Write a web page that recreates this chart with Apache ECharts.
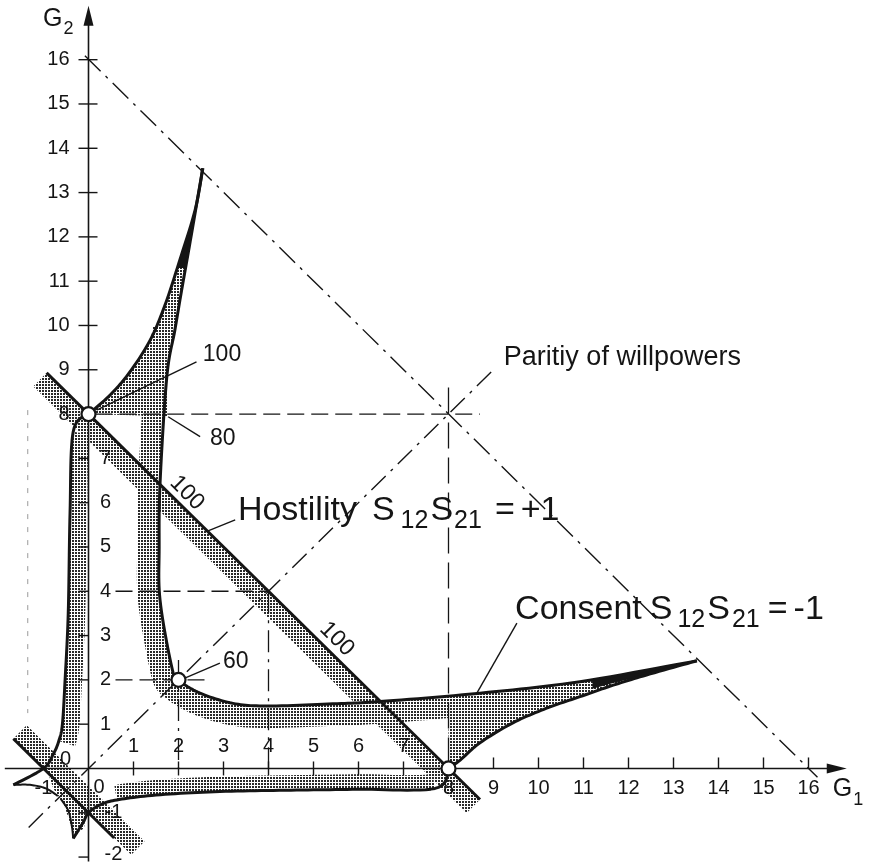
<!DOCTYPE html>
<html>
<head>
<meta charset="utf-8">
<script src="https://cdn.jsdelivr.net/npm/echarts@6/dist/echarts.min.js"></script>
<style>
  html, body { margin: 0; padding: 0; background: #fff; }
  #chart { width: 874px; height: 862px; }
</style>
</head>
<body>
<div id="chart"></div>
<script>
// ---------------- data ----------------
// axis ticks
const xTicksAbove = [1, 2, 3, 4, 5, 6, 7];
const xTicksBelow = [8, 9, 10, 11, 12, 13, 14, 15, 16];
const yTicksRight = [1, 2, 3, 4, 5, 6, 7];
const yTicksLeft = [8, 9, 10, 11, 12, 13, 14, 15, 16];
const yTicksNegative = [-1, -2];
const xTicksNegative = [-1];

// consent branch through (2,2): from the upper horn tip to the right horn tip
const consentG1 = [2.54, 2.24, 2.07, 1.92, 1.74, 1.59, 1.57, 1.59, 1.85, 2.0, 2.48, 3.21, 3.97, 5.43, 6.48, 8.70, 10.92, 13.52];
const consentG2 = [13.55, 11.78, 10.80, 9.90, 8.84, 6.44, 5.0, 3.80, 2.29, 2.0, 1.70, 1.47, 1.41, 1.46, 1.51, 1.70, 1.96, 2.43];
// outer edge of the upper horn, from (0,8)
const hornUpG1 = [0, 0.48, 0.92, 1.37, 1.70, 2.03, 2.37, 2.54];
const hornUpG2 = [8, 8.43, 8.95, 9.67, 10.46, 11.48, 12.61, 13.55];
const hornUpBase = [1.76, 7.95];
const hornUpDarkG1 = [1.98, 2.03, 2.37, 2.54, 2.24, 2.15];
const hornUpDarkG2 = [11.30, 11.48, 12.61, 13.55, 11.78, 11.30];
// lower edge of the right horn, from (8,0)
const hornRightG1 = [8, 8.26, 8.70, 9.43, 10.18, 10.92, 11.66, 12.40, 13.52];
const hornRightG2 = [0, 0.19, 0.58, 1.03, 1.36, 1.62, 1.88, 2.11, 2.43];
const hornRightBase = [8.0, 1.65];
const hornRightDarkG1 = [11.2, 13.52, 12.40, 11.66, 11.2];
const hornRightDarkG2 = [2.00, 2.43, 2.11, 1.93, 1.80];
// left branch, from (0,8) down to the cusp tail
const leftG1 = [0, -0.34, -0.41, -0.45, -0.52, -0.58, -0.66, -0.78, -1.0, -1.67];
const leftG2 = [8, 7.60, 5.77, 3.51, 2.0, 1.0, 0.62, 0.33, 0.0, -0.37];
// lower branch, from (8,0) to the cusp tail
const lowerG1 = [8, 7.70, 6.0, 4.5, 2.92, 1.5, 0.63, 0.26, 0.0, -0.12, -0.34];
const lowerG2 = [0, -0.45, -0.47, -0.49, -0.52, -0.60, -0.71, -0.82, -1.0, -1.22, -1.58];
// inner cusp edges near the origin
const cuspLowG1 = [-0.62, -0.45, -0.37, -0.34];
const cuspLowG2 = [-0.68, -0.95, -1.30, -1.58];
const cuspLeftG1 = [-0.68, -0.95, -1.30, -1.67];
const cuspLeftG2 = [-0.62, -0.45, -0.37, -0.37];
const cuspPatchG1 = [-0.9, -0.05, -0.1, -0.32, -0.55, -0.78];
const cuspPatchG2 = [-0.1, -0.95, -1.35, -1.5, -0.8, -0.45];

// hostility lines G1+G2 = 8 and G1+G2 = -1
const hostilityG1 = [-0.93, 8.70];
const hostilityG2 = [8.93, -0.70];
const hostility2G1 = [-1.67, 0.57];
const hostility2G2 = [0.67, -1.57];
const hostility2BandG1 = [-1.67, 0.95];
const hostility2BandG2 = [0.67, -1.95];

// reference lines
const sum16G1 = [-0.08, 16.2];
const sum16G2 = [16.09, -0.2];
const parityG = [-1.33, 9.04];

// equilibrium points
const equilibriaG1 = [0, 8, 2];
const equilibriaG2 = [8, 0, 2];

// value annotations
const levelLabels = ['100', '80', '60', '100', '100'];

// ---------------- drawing ----------------
const INK = '#151515';
const FONT = '"Liberation Sans", Arial, Helvetica, sans-serif';
const MID = 0.35;

const dotCanvas = document.createElement('canvas');
dotCanvas.width = 3; dotCanvas.height = 3;
const dctx = dotCanvas.getContext('2d');
dctx.fillStyle = '#2a2a2a';
dctx.fillRect(0, 0, 2, 2);
const DOTS = { image: dotCanvas, repeat: 'repeat' };

const measureCtx = document.createElement('canvas').getContext('2d');
function textWidth(t, size) {
  measureCtx.font = size + 'px ' + FONT;
  return measureCtx.measureText(t).width;
}

function toPx(api, xs, ys) { return xs.map((x, i) => api.coord([x, ys[i]])); }

// Catmull-Rom through the given pixel points
function dense(pts, seg) {
  if (pts.length < 3) return pts.slice();
  const out = [];
  for (let i = 0; i < pts.length - 1; i++) {
    const p0 = pts[Math.max(i - 1, 0)], p1 = pts[i], p2 = pts[i + 1], p3 = pts[Math.min(i + 2, pts.length - 1)];
    for (let k = 0; k < seg; k++) {
      const t = k / seg, t2 = t * t, t3 = t2 * t;
      out.push([0, 1].map(j => 0.5 * (2 * p1[j] + (-p0[j] + p2[j]) * t +
        (2 * p0[j] - 5 * p1[j] + 4 * p2[j] - p3[j]) * t2 +
        (-p0[j] + 3 * p1[j] - 3 * p2[j] + p3[j]) * t3)));
    }
  }
  out.push(pts[pts.length - 1]);
  return out;
}

function offset(pts, w, side) {
  return pts.map((pt, i) => {
    const a = pts[Math.max(i - 1, 0)], b = pts[Math.min(i + 1, pts.length - 1)];
    const dx = b[0] - a[0], dy = b[1] - a[1];
    const L = Math.hypot(dx, dy) || 1;
    return [pt[0] + side * (-dy / L) * w, pt[1] + side * (dx / L) * w];
  });
}

function band(pts, w, side) {
  return pts.concat(offset(pts, w, side).reverse());
}

function poly(points, fill) {
  return { type: 'polygon', shape: { points }, style: { fill, stroke: null } };
}
function line(points, width, dash, color) {
  return { type: 'polyline', shape: { points },
    style: { stroke: color || INK, lineWidth: width, fill: 'none', lineDash: dash || null, lineCap: 'butt', lineJoin: 'round' } };
}
function seg(x1, y1, x2, y2, w) {
  return { type: 'line', shape: { x1, y1, x2, y2 }, style: { stroke: INK, lineWidth: w || 1.4 } };
}
function txt(text, x, y, size, align, rotation) {
  return { type: 'text', x, y, rotation: rotation || 0,
    style: { text, fontSize: size, fontFamily: FONT, fill: INK, align, verticalAlign: 'middle' } };
}
// a run of text pieces on one baseline, with lowered subscripts
function run(api, g1, g2, pieces) {
  const [x0, base] = api.coord([g1, g2]);
  let x = x0;
  const out = [];
  pieces.forEach(([t, size, dy, gap]) => {
    x += gap;
    out.push(txt(t, x, base + dy - MID * size, size, 'left'));
    x += textWidth(t, size);
  });
  return out;
}

function layer(name, z, build) {
  return {
    name, type: 'custom', z, clip: false, silent: true,
    data: [[0, 0]],
    renderItem: (params, api) => ({ type: 'group', children: build(api) })
  };
}

const SEG = 12;

const fills = layer('fills', 1, api => {
  const out = [];
  const h1 = toPx(api, hostilityG1, hostilityG2);
  out.push(poly(band(h1, 19, 1), DOTS));
  const h2 = toPx(api, hostility2BandG1, hostility2BandG2);
  out.push(poly(band(h2, 19, -1), DOTS));
  out.push(poly(toPx(api, cuspPatchG1, cuspPatchG2), DOTS));

  const dA = dense(toPx(api, consentG1, consentG2), SEG);
  out.push(poly(band(dA.slice(3 * SEG, 15 * SEG + 1), 22, 1), DOTS));
  const dB = dense(toPx(api, leftG1, leftG2), SEG);
  out.push(poly(band(dB.slice(1 * SEG, 6 * SEG + 1), 17, -1), DOTS));
  const dC = dense(toPx(api, lowerG1, lowerG2), SEG);
  out.push(poly(band(dC.slice(1 * SEG, 6 * SEG + 1), 15, 1), DOTS));

  const dUp = dense(toPx(api, hornUpG1, hornUpG2), SEG);
  out.push(poly(dUp.concat(dA.slice(0, 4 * SEG + 1), [api.coord(hornUpBase)]), DOTS));
  const dRight = dense(toPx(api, hornRightG1, hornRightG2), SEG);
  out.push(poly(dRight.concat(dA.slice(15 * SEG).reverse(), [api.coord(hornRightBase)]), DOTS));

  out.push(poly(toPx(api, hornUpDarkG1, hornUpDarkG2), INK));
  out.push(poly(toPx(api, hornRightDarkG1, hornRightDarkG2), INK));
  return out;
});

const guides = layer('guides', 2, api => {
  const DASHDOT = [22, 7, 3, 7];
  const DASH = [17, 7];
  return [
    line(toPx(api, sum16G1, sum16G2), 1.4, DASHDOT),
    line(toPx(api, parityG, parityG), 1.4, [20, 7, 3, 7]),
    line(toPx(api, [0.15, 8.7], [8, 8]), 1.3, DASH),
    line(toPx(api, [8, 8], [8.6, 0]), 1.3, [26, 9]),
    line(toPx(api, [0.6, 4.0], [4, 4]), 1.3, DASH),
    line(toPx(api, [4, 4], [4.0, 0]), 1.3, DASHDOT),
    line(toPx(api, [0.6, 2.6], [2, 2]), 1.3, DASH),
    line(toPx(api, [2, 2], [2.45, 0]), 1.3, DASHDOT),
    line(toPx(api, [-1.35, -1.35], [8.09, 1.25]), 1, [5, 8], '#9a9a9a')
  ];
});

const axes = layer('axes', 3, api => {
  const out = [];
  const o = api.coord([0, 0]);
  const yTip = api.coord([0, 17.22]);
  const xTip = api.coord([16.85, 0]);
  out.push(seg(api.coord([-1.86, 0])[0], o[1], xTip[0] - 8, o[1], 1.6));
  out.push(seg(o[0], api.coord([0, -2.1])[1], o[0], yTip[1] + 8, 1.6));
  out.push(poly([yTip, [yTip[0] - 5, yTip[1] + 20], [yTip[0] + 5, yTip[1] + 20]], INK));
  out.push(poly([xTip, [xTip[0] - 20, xTip[1] - 5], [xTip[0] - 20, xTip[1] + 5]], INK));

  xTicksAbove.forEach(v => {
    const [x, y] = api.coord([v, 0]);
    out.push(seg(x, y - 7, x, y + 7));
    out.push(txt(String(v), x, y - 22, 20, 'center'));
  });
  xTicksBelow.forEach(v => {
    const [x, y] = api.coord([v, 0]);
    if (v !== 8) out.push(seg(x, y - 11, x, y));
    out.push(txt(String(v), x, y + 20, 20, 'center'));
  });
  xTicksNegative.forEach(v => {
    const [x, y] = api.coord([v, 0]);
    out.push(txt(String(v), x, y + 20, 20, 'center'));
  });
  yTicksRight.forEach(v => {
    const [x, y] = api.coord([0, v]);
    out.push(seg(x - 10, y, x, y));
    out.push(txt(String(v), x + 11.5, y, 20, 'left'));
  });
  yTicksLeft.forEach(v => {
    const [x, y] = api.coord([0, v]);
    if (v !== 8) out.push(seg(x - 10, y, x + 9, y));
    out.push(txt(String(v), x - 19, y, 20, 'right'));
  });
  yTicksNegative.forEach(v => {
    const [x, y] = api.coord([0, v]);
    out.push(seg(x - 10, y, x, y));
    out.push(txt(String(v), x + 16, v === -2 ? y - 3 : y, 20, 'left'));
  });
  out.push(txt('0', o[0] - 23, o[1] - 9, 20, 'center'));
  out.push(txt('0', o[0] + 10.5, o[1] + 19, 20, 'center'));
  return out;
});

const curves = layer('curves', 4, api => {
  const W = 3;
  return [
    line(dense(toPx(api, consentG1, consentG2), SEG), W),
    line(dense(toPx(api, hornUpG1, hornUpG2), SEG), W),
    line(dense(toPx(api, hornRightG1, hornRightG2), SEG), W),
    line(dense(toPx(api, leftG1, leftG2), SEG), W),
    line(dense(toPx(api, lowerG1, lowerG2), SEG), W),
    line(toPx(api, hostilityG1, hostilityG2), W),
    line(toPx(api, hostility2G1, hostility2G2), W),
    line(dense(toPx(api, cuspLowG1, cuspLowG2), SEG), 2),
    line(dense(toPx(api, cuspLeftG1, cuspLeftG2), SEG), 2),
    // leader lines
    line(toPx(api, [0.18, 2.40], [8.09, 9.18]), 1.4),
    line(toPx(api, [1.77, 2.48], [7.94, 7.49]), 1.4),
    line(toPx(api, [2.14, 2.92], [2.04, 2.38]), 1.4),
    line(toPx(api, [3.26, 2.63], [5.61, 5.35]), 1.4),
    line(toPx(api, [9.52, 8.63], [3.28, 1.70]), 1.4)
  ];
});

const labels = layer('labels', 6, api => {
  const out = [];
  const lab = (text, g1, g2) => { const [x, y] = api.coord([g1, g2]); out.push(txt(text, x, y - MID * 23, 23, 'left')); };
  lab(levelLabels[0], 2.54, 9.15);
  lab(levelLabels[1], 2.70, 7.26);
  lab(levelLabels[2], 2.99, 2.22);
  const rot = (text, g1, g2) => { const [x, y] = api.coord([g1, g2]); out.push(txt(text, x, y, 23, 'center', -Math.PI / 4)); };
  rot(levelLabels[3], 2.19, 6.22);
  rot(levelLabels[4], 5.52, 2.92);

  out.push(...run(api, 3.32, 5.56, [
    ['Hostility', 34, 0, 0], ['S', 34, 0, 15], ['12', 25, 7.5, 6], ['S', 34, 0, 2],
    ['21', 25, 7.5, 1], ['=', 34, 0, 13], ['+1', 34, 0, 6]
  ]));
  out.push(...run(api, 9.48, 3.32, [
    ['Consent', 34, 0, 0], ['S', 34, 0, 8], ['12', 25, 7, 5], ['S', 34, 0, 2],
    ['21', 25, 7, 2], ['=', 34, 0, 8], ['-1', 34, 0, 6]
  ]));
  out.push(...run(api, 9.23, 9.07, [['Paritiy of willpowers', 27, 0, 0]]));
  out.push(...run(api, -1.01, 16.72, [['G', 25, 0, 0], ['2', 18, 8, 1]]));
  out.push(...run(api, 16.54, -0.67, [['G', 25, 0, 0], ['1', 18, 8, 1]]));
  return out;
});

const chart = echarts.init(document.getElementById('chart'), null, { renderer: 'canvas' });
chart.setOption({
  animation: false,
  backgroundColor: '#fff',
  grid: { left: 3, right: 2.5, top: 4.3, bottom: 0.5, containLabel: false, outerBoundsMode: 'none' },
  xAxis: { type: 'value', min: -1.9, max: 17.4, show: false },
  yAxis: { type: 'value', min: -2.1, max: 17.25, show: false },
  series: [
    fills, guides, axes, curves,
    {
      name: 'equilibria', type: 'scatter', z: 5, silent: true,
      symbol: 'circle', symbolSize: 14,
      itemStyle: { color: '#fff', borderColor: INK, borderWidth: 2.2, opacity: 1 },
      data: equilibriaG1.map((g1, i) => [g1, equilibriaG2[i]])
    },
    labels
  ]
});
</script>
</body>
</html>
